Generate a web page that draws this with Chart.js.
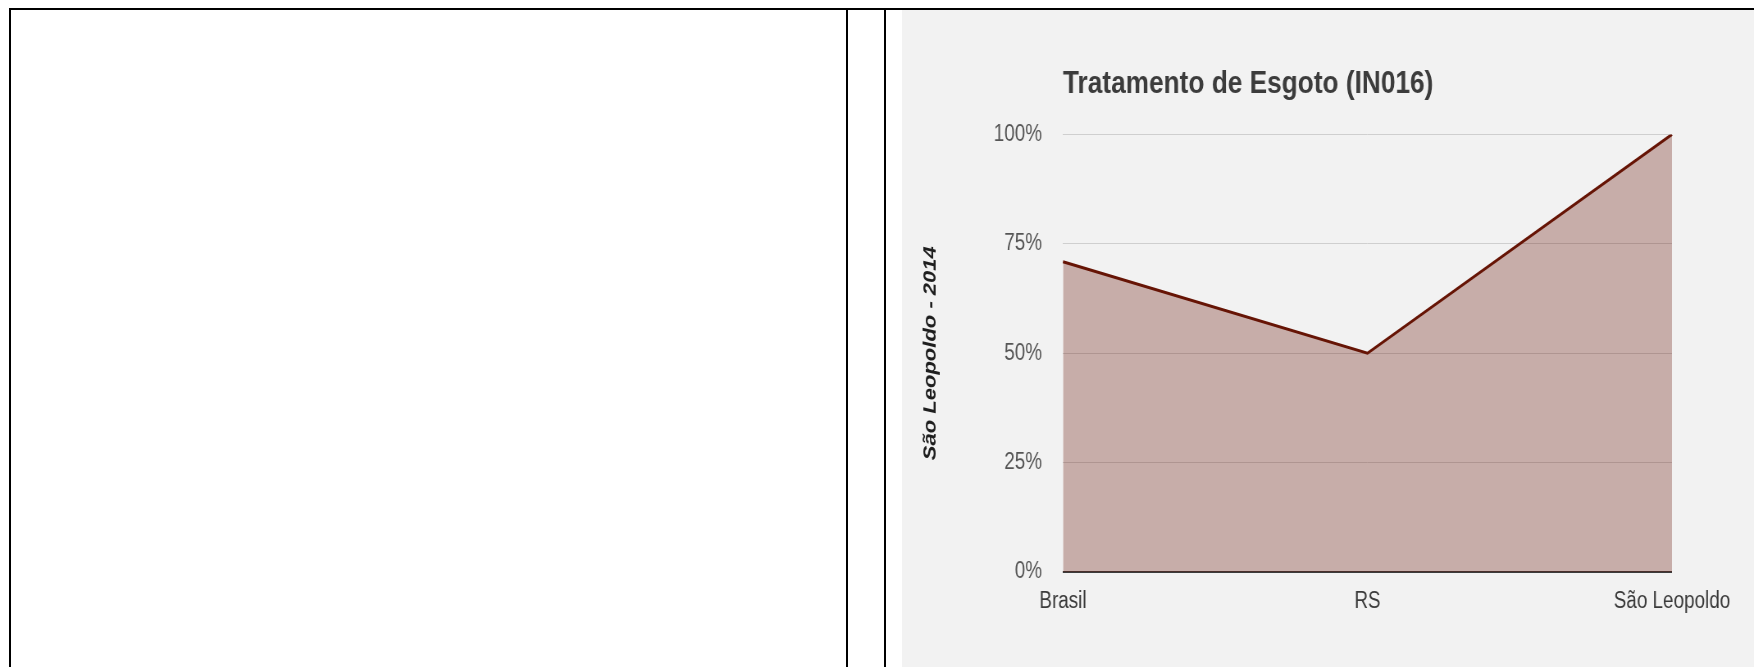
<!DOCTYPE html>
<html>
<head>
<meta charset="utf-8">
<script src="https://cdn.jsdelivr.net/npm/chart.js@4/dist/chart.umd.min.js"></script>
<style>
  html, body { margin: 0; padding: 0; background: #ffffff; width: 1754px; height: 667px; overflow: hidden; }
  .ln { position: absolute; background: #000; }
  #panel { position: absolute; left: 902px; top: 10px; width: 852px; height: 657px; background: #f2f2f2; overflow: hidden; }
  #wrap { position: absolute; left: 0; top: 0; width: 1039px; height: 657px; transform: scaleX(0.82); transform-origin: 0 0; }
</style>
</head>
<body>
<div class="ln" style="left:9px;top:8px;width:1745px;height:2px;"></div>
<div class="ln" style="left:9px;top:8px;width:2px;height:659px;"></div>
<div class="ln" style="left:846px;top:8px;width:2px;height:659px;"></div>
<div class="ln" style="left:884px;top:8px;width:2px;height:659px;"></div>
<div id="panel"><div id="wrap"><canvas id="c"></canvas></div></div>
<script>
const categories = ['Brasil', 'RS', 'São Leopoldo'];
const seriesValues = [70.9, 50.0, 100.0];
const seriesLabel = 'São Leopoldo - 2014';
const chartTitle = 'Tratamento de Esgoto (IN016)';
const yTicks = [0, 25, 50, 75, 100];

const fam = '"Liberation Sans", Arial, sans-serif';

new Chart(document.getElementById('c'), {
  type: 'line',
  data: {
    labels: categories,
    datasets: [{
      label: seriesLabel,
      data: seriesValues,
      borderColor: '#661405',
      backgroundColor: 'rgba(102,20,5,0.31)',
      borderWidth: 3,
      fill: 'origin',
      tension: 0,
      pointRadius: 0,
      pointHoverRadius: 0
    }]
  },
  options: {
    responsive: true,
    maintainAspectRatio: false,
    devicePixelRatio: 1,
    animation: false,
    layout: { padding: { left: 0, right: 100, top: 0, bottom: 0 } },
    plugins: {
      legend: { display: false },
      tooltip: { enabled: false },
      title: {
        display: true,
        text: chartTitle,
        align: 'start',
        fullSize: false,
        color: '#3c3c3c',
        font: { family: fam, size: 32, weight: 'bold' },
        padding: { top: 55, bottom: 31 }
      }
    },
    scales: {
      x: {
        type: 'category',
        offset: false,
        grid: { display: false, drawTicks: false },
        border: { display: false },
        ticks: {
          color: '#3a3a3a',
          font: { family: fam, size: 23 },
          padding: 16,
          maxRotation: 0,
          autoSkip: false
        },
        afterFit: (s) => { s.height = 95; }
      },
      y: {
        min: yTicks[0],
        max: yTicks[yTicks.length - 1],
        afterBuildTicks: (s) => { s.ticks = yTicks.map(v => ({ value: v })); },
        grid: {
          drawTicks: false,
          color: (ctx) => ctx.tick && ctx.tick.value === 0 ? '#3c3c3c' : '#cfcfcf',
          lineWidth: (ctx) => ctx.tick && ctx.tick.value === 0 ? 2 : 1
        },
        border: { display: false },
        ticks: {
          color: '#555555',
          font: { family: fam, size: 23 },
          padding: 25.6,
          callback: (v) => v + '%'
        },
        title: {
          display: true,
          text: seriesLabel,
          color: '#1e1e1e',
          font: { family: fam, size: 22, weight: 'bold', style: 'italic' },
          padding: { top: 22, bottom: 0 }
        },
        afterFit: (s) => { s.width = 196.3; }
      }
    }
  }
});
</script>
</body>
</html>
